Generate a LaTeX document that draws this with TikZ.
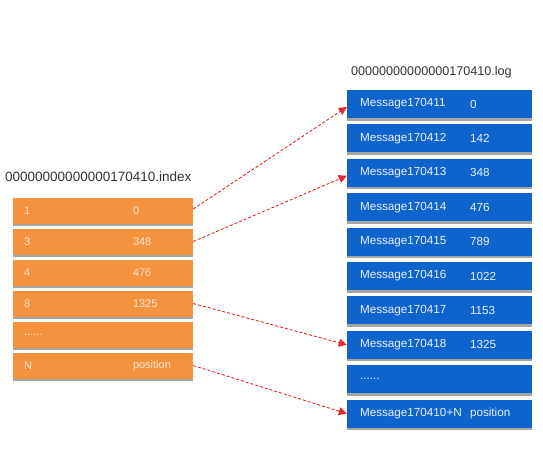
\documentclass[tikz,border=0pt]{standalone}
\usepackage{fontspec}
\setmainfont{Liberation Sans}
\usetikzlibrary{arrows.meta,shadows}
\definecolor{idxorange}{HTML}{F5923E}
\definecolor{logblue}{HTML}{0F63CC}
\definecolor{titlegray}{HTML}{333333}
\definecolor{lefttext}{HTML}{FDE6D2}
\definecolor{righttext}{HTML}{EAF1FF}
\definecolor{arrowred}{HTML}{E8262B}
\newcommand{\mysixdots}{......}
\tikzset{
  idxbox/.style={draw=none, fill=idxorange, minimum width=180pt, minimum height=26pt, inner sep=0pt,
    drop shadow={shadow xshift=0pt, shadow yshift=-2.5pt, fill=black!50, opacity=0.7}},
  logbox/.style={draw=none, fill=logblue, minimum width=185pt, minimum height=28pt, inner sep=0pt,
    drop shadow={shadow xshift=0pt, shadow yshift=-2.5pt, fill=black!50, opacity=0.7}},
  idxtext/.style={anchor=west, inner sep=0pt, text=lefttext, font=\fontsize{11}{13}\selectfont},
  logtext/.style={anchor=west, inner sep=0pt, text=righttext, font=\fontsize{11.7}{14}\selectfont},
  titletext/.style={anchor=west, inner sep=0pt, text=titlegray},
  ptr/.style={draw=arrowred, line width=0.9pt, dash pattern=on 3pt off 2pt,
    -{Triangle[width=8pt,length=8pt]}}
}
\begin{document}
\begin{tikzpicture}[x=1pt,y=-1pt]
\useasboundingbox (0,0) rectangle (543,453);
\fill[white] (0,0) rectangle (543,453);
% titles
\node[titletext, font=\fontsize{13.5}{16}\selectfont] (tidx) at (5,177) {00000000000000170410.index};
\node[titletext, font=\fontsize{12.6}{15}\selectfont] (tlog) at (351,72) {00000000000000170410.log};
% index boxes
\foreach \i/\a/\b in {1/1/0, 2/3/348, 3/4/476, 4/8/1325, 5/\mysixdots/{}, 6/N/position}{
  \node[idxbox] (L\i) at (103, {210.5+31*(\i-1)}) {};
  \node[idxtext] (La\i) at ([xshift=11pt]L\i.west) {\a};
  \node[idxtext] (Lb\i) at ([xshift=120pt]L\i.west) {\b};
}
% log boxes
\foreach \i/\a/\b in {1/Message170411/0, 2/Message170412/142, 3/Message170413/348, 4/Message170414/476,
  5/Message170415/789, 6/Message170416/1022, 7/Message170417/1153, 8/Message170418/1325,
  9/\mysixdots/{}, 10/Message170410+N/position}{
  \node[logbox] (R\i) at (439.5, {104+34.4*(\i-1)}) {};
  \node[logtext] (Ra\i) at ([xshift=13pt]R\i.west) {\a};
  \node[logtext] (Rb\i) at ([xshift=123pt]R\i.west) {\b};
}
% pointers
\draw[ptr] ([yshift=1.5pt]L1.east) -- ([yshift=-3pt]R1.west);
\draw[ptr] (L2.east) -- ([yshift=-3pt]R3.west);
\draw[ptr] (L4.east) -- (R8.west);
\draw[ptr] (L6.east) -- (R10.west);
\end{tikzpicture}
\end{document}
